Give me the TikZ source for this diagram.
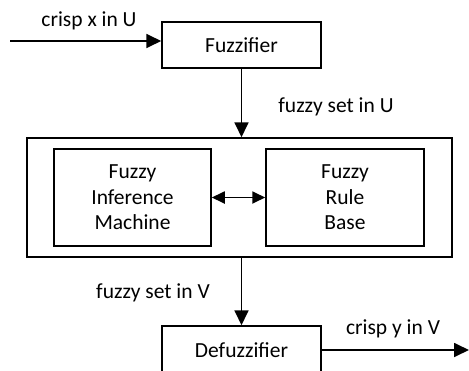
\documentclass[tikz,border=0pt]{standalone}
\usepackage{fontspec}
\setmainfont{Carlito}
\usetikzlibrary{arrows.meta}
\begin{document}
\begin{tikzpicture}[x=1pt,y=-1pt,
  box/.style={draw, line width=1.5pt, inner sep=0pt, align=center, font=\fontsize{21.5}{25.5}\selectfont},
  lbl/.style={inner sep=0pt, font=\fontsize{21.5}{25.5}\selectfont},
  arr/.style={line width=1.8pt, -{Triangle[length=15pt,width=14pt]}},
  darr/.style={line width=1.8pt, {Triangle[length=13pt,width=12pt]}-{Triangle[length=13pt,width=12pt]}}]
\useasboundingbox (0,0) rectangle (469,370);
\node[box, minimum width=159pt, minimum height=46pt] (fz) at (241.5,45) {Fuzzifier};
\node[box, minimum width=425pt, minimum height=119pt] (outer) at (239.5,197.5) {};
\node[box, minimum width=157pt, minimum height=97pt] (fim) at (132.5,197.5) {Fuzzy\\Inference\\Machine};
\node[box, minimum width=158pt, minimum height=97pt] (frb) at (345,197.5) {Fuzzy\\Rule\\Base};
\node[box, minimum width=159pt, minimum height=48pt] (dfz) at (241.5,350) {Defuzzifier};
\coordinate (in) at (10,41);
\coordinate (out) at (469,350);
\draw[arr] (in) -- (in -| fz.west);
\draw[arr] (fz.south) -- (outer.north -| fz.south);
\draw[darr] (fim.east) -- (frb.west);
\draw[arr] (outer.south -| dfz.north) -- (dfz.north);
\draw[arr] (dfz.east) -- (out);
\node[lbl] (l1) at (89,21) {crisp x in U};
\node[lbl] (l2) at (336,107) {fuzzy set in U};
\node[lbl] (l3) at (153,293) {fuzzy set in V};
\node[lbl] (l4) at (393,329) {crisp y in V};
\end{tikzpicture}
\end{document}
